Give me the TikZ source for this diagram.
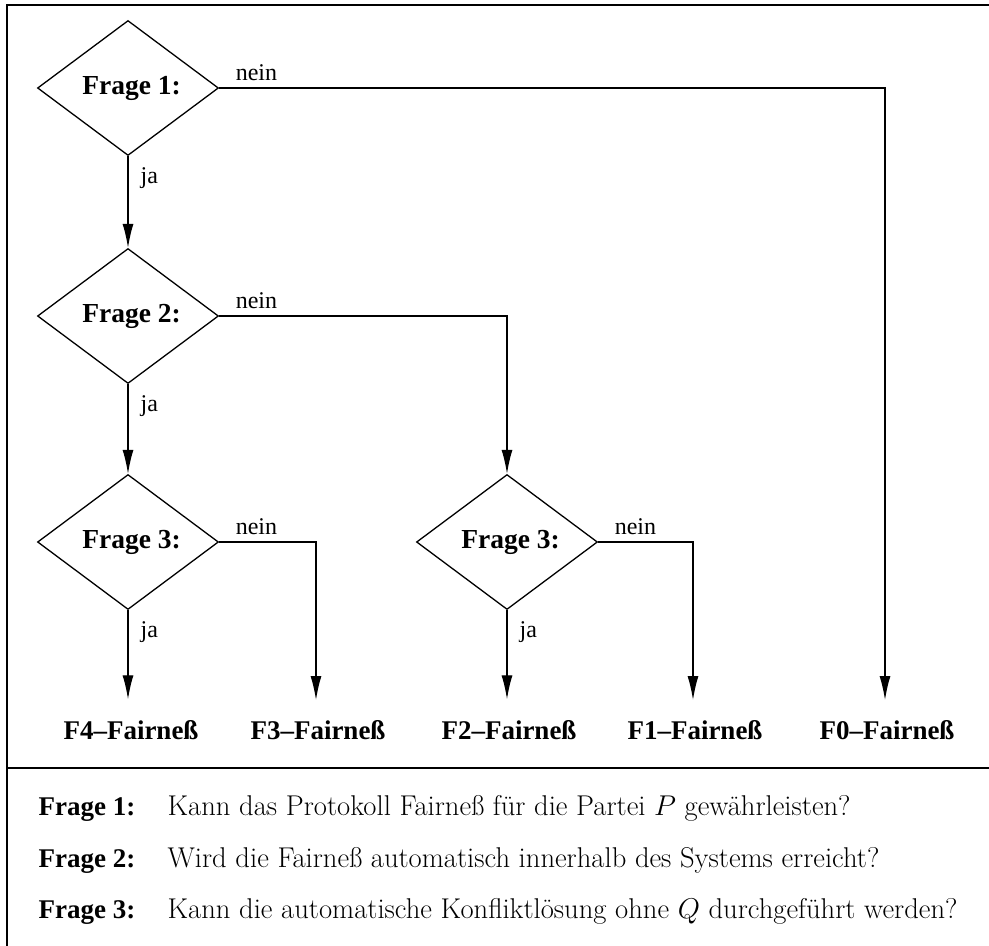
\RequirePackage{fix-cm}
\documentclass[tikz,border=0pt]{standalone}
\usepackage{fontspec}
\usetikzlibrary{shapes.geometric,arrows.meta}
\newfontfamily\tms[Ligatures=TeX]{Liberation Serif}
\begin{document}
\begin{tikzpicture}[x=1pt,y=-1pt,
  line width=1.3pt,
  question/.style={diamond,draw,line width=1.3pt,minimum width=181pt,minimum height=135pt,
    inner sep=0pt,font=\tms\fontsize{27.5}{30}\selectfont\bfseries},
  result/.style={inner xsep=0pt,inner ysep=20pt,font=\tms\fontsize{27}{30}\selectfont\bfseries},
  answer/.style={inner sep=0pt,font=\tms\fontsize{24}{28}\selectfont},
  flow/.style={-{Latex[length=24pt,width=11pt]},line width=1.3pt},
  legkey/.style={inner sep=0pt,anchor=base west,font=\tms\fontsize{27}{30}\selectfont\bfseries},
  legtext/.style={inner sep=0pt,anchor=base west,font=\fontsize{28.6}{32}\selectfont}]
\useasboundingbox (0,0) rectangle (989,946);
\begin{scope}
  \clip (0,0) rectangle (989,946);
  \draw[line width=1.6pt] (7,5) rectangle (1000,960);
  \draw[line width=1.6pt] (7,768) -- (1000,768);
\end{scope}

% decision nodes
\node[question] (q1) at (128,88) {\hspace{7pt}Frage 1:};
\node[question] (q2) at (128,316) {\hspace{7pt}Frage 2:};
\node[question] (q3a) at (128,542) {\hspace{7pt}Frage 3:};
\node[question] (q3b) at (507,542) {\hspace{7pt}Frage 3:};

% outcomes
\node[result,anchor=base] (t4) at (131,739) {F4–Fairneß};
\node[result,anchor=base] (t3) at (318,739) {F3–Fairneß};
\node[result,anchor=base] (t2) at (509,739) {F2–Fairneß};
\node[result,anchor=base] (t1) at (695,739) {F1–Fairneß};
\node[result,anchor=base] (t0) at (887,739) {F0–Fairneß};

% connectors
\draw[flow] (q1.south) -- (q2.north);
\draw[flow] (q2.south) -- (q3a.north);
\draw[flow] (q3a.south) -- (q3a.south |- t4.north);
\draw[flow] (q3b.south) -- (q3b.south |- t2.north);
\draw[flow] (q1.east) -- (885,88) -- (885,700) coordinate (e0);
\draw[flow] (q2.east) -| (q3b.north);
\draw[flow] (q3a.east) -- (316,542) -- (316,700) coordinate (e3);
\draw[flow] (q3b.east) -- (693,542) -- (693,700) coordinate (e1);

% branch labels
\foreach \q in {q1,q2,q3a,q3b}{
  \node[answer,anchor=base west] (n-\q) at ([xshift=16pt,yshift=8pt]\q.east) {nein};
  \node[answer,anchor=base west] (j-\q) at ([xshift=12pt,yshift=-27pt]\q.south) {ja};
}

% legend
\node[legkey] (k1) at (38,815) {Frage 1:};
\node[legkey] (k2) at (38,867) {Frage 2:};
\node[legkey] (k3) at (38,918) {Frage 3:};
\node[legtext] (d1) at (167,815) {Kann das Protokoll Fairneß für die Partei $P$ gewährleisten?};
\node[legtext] (d2) at (167,867) {Wird die Fairneß automatisch innerhalb des Systems erreicht?};
\node[legtext] (d3) at (167,918) {Kann die automatische Konfliktlösung ohne $Q$ durchgeführt werden?};
\end{tikzpicture}
\end{document}
